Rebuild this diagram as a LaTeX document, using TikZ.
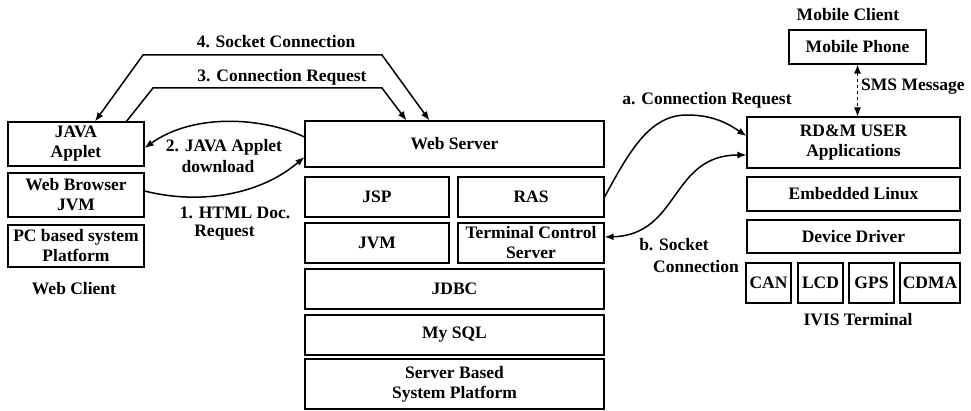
\documentclass[tikz,border=0pt]{standalone}
\usepackage{fontspec}
\setmainfont{Liberation Serif}
\usetikzlibrary{arrows.meta}
\begin{document}
\begin{tikzpicture}[x=1pt,y=-1pt,
  font=\fontsize{17.5}{20}\selectfont\bfseries,
  blk/.style={draw=black,line width=1.1pt,inner sep=0pt,align=center},
  lbl/.style={inner sep=0pt,align=center},
  conn/.style={line width=1.5pt},
  tip/.style={-{Latex[length=9pt,width=7pt]}},
  tips/.style={{Latex[length=9pt,width=7pt]}-{Latex[length=9pt,width=7pt]}}]
\useasboundingbox (0,0) rectangle (971,411);
% Web client
\node[blk,minimum width=136,minimum height=44] (applet) at (76,144) {JAVA\\Applet};
\node[blk,minimum width=136,minimum height=44] (browser) at (76,195) {Web Browser\\JVM};
\node[blk,minimum width=136,minimum height=42] (pc) at (76,246) {PC based system\\Platform};
\node[lbl] (webclient) at (74,289) {Web Client};
% Server
\node[blk,minimum width=299,minimum height=46] (ws) at (454.5,144) {Web Server};
\node[blk,minimum width=144,minimum height=40] (jsp) at (377,197) {JSP};
\node[blk,minimum width=146,minimum height=40] (ras) at (531,197) {RAS};
\node[blk,minimum width=144,minimum height=40] (jvm) at (377,243) {JVM};
\node[blk,minimum width=146,minimum height=40] (tcs) at (531,243) {Terminal Control\\Server};
\node[blk,minimum width=299,minimum height=40] (jdbc) at (454.5,289) {JDBC};
\node[blk,minimum width=299,minimum height=40] (mysql) at (454.5,335) {My SQL};
\node[blk,minimum width=299,minimum height=50] (sbsp) at (454.5,384) {Server Based\\System Platform};
% Mobile / IVIS
\node[lbl] (mobclient) at (848,15) {Mobile Client};
\node[blk,minimum width=137,minimum height=34] (phone) at (857.5,47) {Mobile Phone};
\node[blk,minimum width=213,minimum height=51] (rdm) at (853.5,142.5) {RD\&M USER\\Applications};
\node[blk,minimum width=213,minimum height=34] (linux) at (853.5,194) {Embedded Linux};
\node[blk,minimum width=213,minimum height=33] (driver) at (853.5,236.5) {Device Driver};
\node[blk,minimum width=45,minimum height=40] (can) at (768.5,283) {CAN};
\node[blk,minimum width=45,minimum height=40] (lcd) at (820.5,283) {LCD};
\node[blk,minimum width=45,minimum height=40] (gps) at (871.5,283) {GPS};
\node[blk,minimum width=60,minimum height=40] (cdma) at (930,283) {CDMA};
\node[lbl] (ivis) at (858,320) {IVIS Terminal};
% Labels
\node[lbl] (l4) at (276,42) {4. Socket Connection};
\node[lbl] (l3) at (282,77) {3. Connection Request};
\node[lbl] (l2a) at (224,147) {2. JAVA Applet};
\node[lbl] (l2b) at (218,167) {download};
\node[lbl] (l1a) at (235,213) {1. HTML Doc.};
\node[lbl] (l1b) at (224.5,233) {Request};
\node[lbl] (la) at (707,100) {a. Connection Request};
\node[lbl] (lb1) at (674,245) {b. Socket};
\node[lbl] (lb2) at (696,267) {Connection};
\node[lbl,anchor=west] (lsms) at (861,87) {SMS Message};
% Connectors
\coordinate (c4a) at (143,55);
\coordinate (c4b) at (382,55);
\coordinate (c3a) at (153,88);
\coordinate (c3b) at (382,88);
\draw[conn,tips] ([xshift=19]applet.north) -- (c4a) -- (c4b) -- ([xshift=125]ws.north west);
\draw[conn,tip] ([xshift=119]applet.north west) -- (c3a) -- (c3b) -- ([xshift=102]ws.north west);
\draw[conn,tip] ([yshift=7]ws.west) .. controls (265,118) and (195,112) .. ([yshift=-4]applet.east);
\draw[conn,tip] ([yshift=4]browser.east) .. controls (200,205) and (260,195) .. ([yshift=-13]ws.west);
\coordinate (apk) at (687,115);
\draw[conn,tip] (ras.east) .. controls (630,150) and (650,115) .. (apk) .. controls (715,115) and (730,125) .. ([yshift=6.5]rdm.west);
\draw[conn,tips] ([yshift=6]tcs.east) .. controls (680,235) and (670,155) .. ([yshift=-12.5]rdm.west);
\draw[line width=1.1pt,dashed,tips] (phone.south) -- (phone.south |- rdm.north);
\end{tikzpicture}
\end{document}
